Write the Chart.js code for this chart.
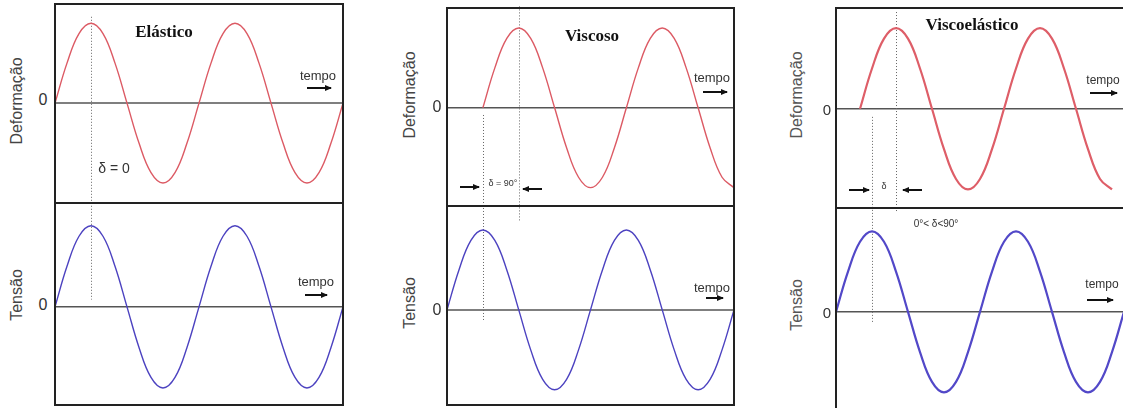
<!DOCTYPE html>
<html>
<head>
<meta charset="utf-8">
<script src="https://cdn.jsdelivr.net/npm/chart.js@4.4.1/dist/chart.umd.min.js"></script>
<style>
  html, body { margin: 0; padding: 0; background: #fff; width: 1123px; height: 408px; overflow: hidden; }
  #stage { position: relative; width: 1123px; height: 408px; overflow: hidden; }
  .box { position: absolute; }
  .t { position: absolute; transform: translate(-50%, -50%); white-space: nowrap; font-family: "Liberation Sans", Arial, sans-serif; color: #333; line-height: 1; }
  .rot { transform: translate(-50%, -50%) rotate(-90deg); }
  .ttl { font-family: "Liberation Serif", "Times New Roman", serif; font-weight: bold; color: #111; font-size: 17px; }
  .arrow { position: absolute; height: 1.5px; background: #111; }
  .arrow.r::after { content: ""; position: absolute; right: -1px; top: -2.5px; border-left: 7px solid #111; border-top: 3.25px solid transparent; border-bottom: 3.25px solid transparent; }
  .arrow.l::after { content: ""; position: absolute; left: -1px; top: -2.5px; border-right: 7px solid #111; border-top: 3.25px solid transparent; border-bottom: 3.25px solid transparent; }
</style>
</head>
<body>
<div id="stage"></div>
<script>
// ---------- DATA (x in degrees of phase, y in units of amplitude) ----------
const degreesFull = [0,30,60,90,120,150,180,210,240,270,300,330,360,390,420,450,480,510,540,570,600,630,660,690,720];

// Elástico
const elasticStrainX = [0,30,60,90,120,150,180,210,240,270,300,330,360,390,420,450,480,510,540,570,600,630,660,690,720];
const elasticStrain  = [0,0.5,0.87,1,0.87,0.5,0,-0.5,-0.87,-1,-0.87,-0.5,0,0.5,0.87,1,0.87,0.5,0,-0.5,-0.87,-1,-0.87,-0.5,0];
const elasticStress  = [0,0.5,0.87,1,0.87,0.5,0,-0.5,-0.87,-1,-0.87,-0.5,0,0.5,0.87,1,0.87,0.5,0,-0.5,-0.87,-1,-0.87,-0.5,0];

// Viscoso (strain starts 90° later)
const viscousStrainX = [90,120,150,180,210,240,270,300,330,360,390,420,450,480,510,540,570,600,630,660,690,720];
const viscousStrain  = [0,0.5,0.87,1,0.87,0.5,0,-0.5,-0.87,-1,-0.87,-0.5,0,0.5,0.87,1,0.87,0.5,0,-0.5,-0.87,-1];
const viscousStress  = [0,0.5,0.87,1,0.87,0.5,0,-0.5,-0.87,-1,-0.87,-0.5,0,0.5,0.87,1,0.87,0.5,0,-0.5,-0.87,-1,-0.87,-0.5,0];

// Viscoelástico (strain starts 60° later)
const viscoelasticStrainX = [60,90,120,150,180,210,240,270,300,330,360,390,420,450,480,510,540,570,600,630,660,690];
const viscoelasticStrain  = [0,0.5,0.87,1,0.87,0.5,0,-0.5,-0.87,-1,-0.87,-0.5,0,0.5,0.87,1,0.87,0.5,0,-0.5,-0.87,-1];
const viscoelasticStress  = [0,0.5,0.87,1,0.87,0.5,0,-0.5,-0.87,-1,-0.87,-0.5,0,0.5,0.87,1,0.87,0.5,0,-0.5,-0.87,-1,-0.87,-0.5,0];

// Phase markers (degrees)
const elasticMarkers = [90];
const viscousMarkers = [90, 180];
const viscoelasticMarkers = [90, 150];

const zip = (xs, ys) => xs.map((x, i) => ({ x: x, y: ys[i] }));

// ---------- decoration plugin (frame, zero lines, dotted phase lines) ----------
const decor = {
  id: 'decor',
  beforeDatasetsDraw(chart) {
    const o = chart.options.plugins.decor;
    const a = chart.chartArea, ctx = chart.ctx;
    const yt = chart.scales.yTop, yb = chart.scales.yBot, xs = chart.scales.x;
    ctx.save();
    ctx.strokeStyle = '#555'; ctx.lineWidth = 1.5;
    [yt, yb].forEach(s => {
      const y = s.getPixelForValue(0);
      ctx.beginPath(); ctx.moveTo(a.left, y); ctx.lineTo(a.right, y); ctx.stroke();
    });
    ctx.strokeStyle = '#666'; ctx.lineWidth = 1; ctx.setLineDash([1, 2]);
    o.dotted.forEach(d => {
      const x = Math.round(xs.getPixelForValue(d.x)) + 0.5;
      const sA = d.from[0] === 'top' ? yt : yb;
      const sB = d.to[0] === 'top' ? yt : yb;
      ctx.beginPath();
      ctx.moveTo(x, sA.getPixelForValue(d.from[1]));
      ctx.lineTo(x, sB.getPixelForValue(d.to[1]));
      ctx.stroke();
    });
    ctx.restore();
  },
  afterDatasetsDraw(chart) {
    const a = chart.chartArea, ctx = chart.ctx;
    const yt = chart.scales.yTop, yb = chart.scales.yBot;
    const split = yt.top < yb.top ? yt.bottom : yb.bottom;
    ctx.save();
    ctx.strokeStyle = '#222'; ctx.lineWidth = 2;
    ctx.strokeRect(a.left, a.top, a.right - a.left, a.bottom - a.top);
    ctx.beginPath(); ctx.moveTo(a.left, split); ctx.lineTo(a.right, split); ctx.stroke();
    ctx.restore();
  }
};

const stage = document.getElementById('stage');
const PAD = 6;

function makePanel(p) {
  const box = document.createElement('div');
  box.className = 'box';
  box.style.left = (p.left - PAD) + 'px';
  box.style.top = (p.top - PAD) + 'px';
  box.style.width = (p.right - p.left + 2 * PAD) + 'px';
  box.style.height = (p.bottom - p.top + 2 * PAD) + 'px';
  const cv = document.createElement('canvas');
  box.appendChild(cv);
  stage.appendChild(box);
  new Chart(cv, {
    type: 'line',
    data: {
      datasets: [
        { data: zip(p.strainX, p.strain), yAxisID: 'yTop', borderColor: p.red, borderWidth: p.lw, pointRadius: 0, tension: 0.4, fill: false },
        { data: zip(p.stressX, p.stress), yAxisID: 'yBot', borderColor: p.blue, borderWidth: p.lw, pointRadius: 0, tension: 0.4, fill: false }
      ]
    },
    options: {
      responsive: true, maintainAspectRatio: false, animation: false,
      layout: { padding: PAD },
      plugins: { legend: { display: false }, tooltip: { enabled: false }, decor: { dotted: p.dotted } },
      scales: {
        x: { type: 'linear', min: 0, max: 720, display: false },
        yBot: { type: 'linear', position: 'left', stack: 'p', stackWeight: p.wBot, min: p.botRange[0], max: p.botRange[1], display: false },
        yTop: { type: 'linear', position: 'left', stack: 'p', stackWeight: p.wTop, min: p.topRange[0], max: p.topRange[1], display: false }
      }
    },
    plugins: [decor]
  });
}

makePanel({
  left: 55, right: 343, top: 4, bottom: 405, wTop: 199, wBot: 202,
  topRange: [-1.25, 1.24], botRange: [-1.21, 1.28],
  strainX: elasticStrainX, strain: elasticStrain, stressX: degreesFull, stress: elasticStress,
  red: 'rgb(220,90,100)', blue: 'rgb(76,66,192)', lw: 1.4,
  dotted: [{ x: elasticMarkers[0], from: ['top', 1.08], to: ['bot', 0.09] }]
});
makePanel({
  left: 447, right: 734, top: 8, bottom: 405, wTop: 198, wBot: 199,
  topRange: [-1.23, 1.25], botRange: [-1.19, 1.30],
  strainX: viscousStrainX, strain: viscousStrain, stressX: degreesFull, stress: viscousStress,
  red: 'rgb(220,90,100)', blue: 'rgb(76,66,192)', lw: 1.4,
  dotted: [
    { x: viscousMarkers[0], from: ['top', -0.09], to: ['bot', -0.15] },
    { x: viscousMarkers[1], from: ['top', 1.27], to: ['bot', 1.12] }
  ]
});
makePanel({
  left: 836, right: 1124, top: 8, bottom: 410, wTop: 200, wBot: 202,
  topRange: [-1.23, 1.25], botRange: [-1.22, 1.29],
  strainX: viscoelasticStrainX, strain: viscoelasticStrain, stressX: degreesFull, stress: viscoelasticStress,
  red: 'rgb(222,94,104)', blue: 'rgb(82,72,200)', lw: 2.2,
  dotted: [
    { x: viscoelasticMarkers[0], from: ['top', -0.1], to: ['bot', -0.125] },
    { x: viscoelasticMarkers[1], from: ['top', 1.2], to: ['bot', 1.24] }
  ]
});

// ---------- text labels ----------
function text(str, cx, cy, size, cls, extra) {
  const d = document.createElement('div');
  d.className = 't' + (cls ? ' ' + cls : '');
  d.textContent = str;
  d.style.left = cx + 'px'; d.style.top = cy + 'px';
  if (size) d.style.fontSize = size + 'px';
  if (extra) Object.assign(d.style, extra);
  stage.appendChild(d);
}
function arrow(x1, x2, y, dir) {
  const d = document.createElement('div');
  d.className = 'arrow ' + dir;
  d.style.left = x1 + 'px'; d.style.top = (y - 0.75) + 'px'; d.style.width = (x2 - x1) + 'px';
  stage.appendChild(d);
}

// Panel 1
text('Deformação', 17, 101, 16, 'rot', { color: '#444' });
text('Tensão', 17, 295, 16, 'rot', { color: '#444' });
text('0', 43, 100, 16);
text('0', 43, 305, 16);
text('Elástico', 164, 31, 17, 'ttl');
text('tempo', 318, 75, 13);
arrow(307, 331, 88, 'r');
text('tempo', 316, 281, 13);
arrow(305, 327, 295, 'r');
text('δ = 0', 114, 168, 14);

// Panel 2
text('Deformação', 410, 95, 16, 'rot', { color: '#444' });
text('Tensão', 410, 303, 16, 'rot', { color: '#444' });
text('0', 437, 107, 16);
text('0', 437, 310, 16);
text('Viscoso', 592, 35, 17, 'ttl');
text('tempo', 712, 77, 13);
arrow(703, 727, 92, 'r');
text('tempo', 712, 287, 13);
arrow(706, 723, 298, 'r');
text('δ = 90°', 503, 183, 9);
arrow(460, 479, 187, 'r');
arrow(523, 542, 189, 'l');

// Panel 3
text('Deformação', 797, 95, 16, 'rot', { color: '#555' });
text('Tensão', 797, 305, 16, 'rot', { color: '#555' });
text('0', 827, 109, 15);
text('0', 827, 312, 15);
text('Viscoelástico', 972, 24, 17, 'ttl');
text('tempo', 1103, 80, 12, { letterSpacing: '1px' });
arrow(1090, 1117, 93, 'r');
text('tempo', 1102, 284, 12, { letterSpacing: '1px' });
arrow(1087, 1113, 300, 'r');
text('δ', 884, 186, 9);
arrow(849, 869, 190, 'r');
arrow(903, 922, 190, 'l');
text('0°< δ<90°', 936, 224, 10);
</script>
</body>
</html>
